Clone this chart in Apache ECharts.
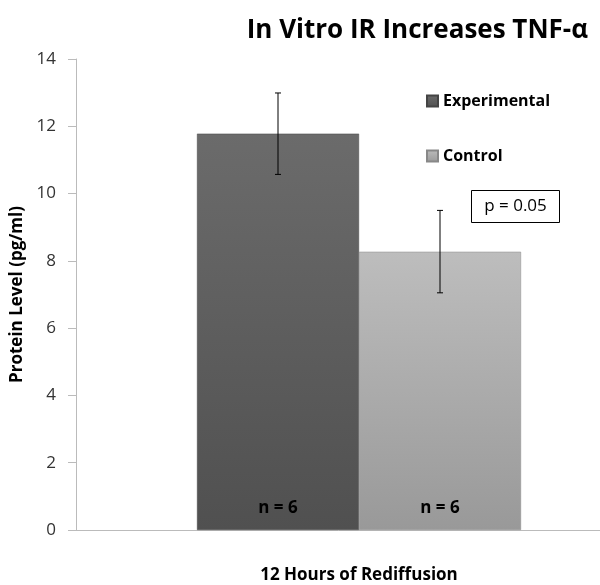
<!DOCTYPE html>
<html><head><meta charset="utf-8">
<script src="https://cdn.jsdelivr.net/npm/echarts@6/dist/echarts.min.js"></script>
<style>html,body{margin:0;padding:0;background:#fff}#c{width:600px;height:585px}</style>
</head><body><div id="c"></div>
<script>
const categories = ['12 Hours of Rediffusion'];
const seriesNames = ['Experimental', 'Control'];
const experimental = [11.78];
const control = [8.27];
const expErr = [[10.57, 12.99]];
const ctlErr = [[7.05, 9.5]];
const nLabels = ['n = 6', 'n = 6'];
const yTicks = [0, 2, 4, 6, 8, 10, 12, 14];

const FONT = '"Open Sans", "Noto Sans", sans-serif';
const BAR_W = 162;
const chart = echarts.init(document.getElementById('c'));

function grad(top, bottom) {
  return new echarts.graphic.LinearGradient(0, 0, 0, 1, [
    {offset: 0, color: top}, {offset: 1, color: bottom}
  ]);
}
function errSeries(err, side) {
  return {
    type: 'custom',
    z: 10,
    data: err.map((e, i) => [i, e[0], e[1]]),
    renderItem: function (params, api) {
      const lo = api.coord([api.value(0), api.value(1)]);
      const hi = api.coord([api.value(0), api.value(2)]);
      const x = lo[0] + side * BAR_W / 2;
      const cap = 3;
      const st = {stroke: '#000', lineWidth: 1};
      return {type: 'group', children: [
        {type: 'line', shape: {x1: x, y1: lo[1], x2: x, y2: hi[1]}, style: st},
        {type: 'line', shape: {x1: x - cap, y1: lo[1], x2: x + cap, y2: lo[1]}, style: st},
        {type: 'line', shape: {x1: x - cap, y1: hi[1], x2: x + cap, y2: hi[1]}, style: st}
      ]};
    }
  };
}

chart.setOption({
  animation: false,
  backgroundColor: '#fff',
  title: {
    text: 'In Vitro IR Increases TNF-α',
    right: 7, top: 13,
    textStyle: {fontFamily: FONT, fontWeight: 'bold', fontSize: 26, color: '#000'}
  },
  legend: {
    orient: 'vertical', left: 421, top: 88, itemGap: 39,
    itemWidth: 11, itemHeight: 11, icon: 'rect',
    data: seriesNames,
    textStyle: {fontFamily: FONT, fontWeight: 'bold', fontSize: 16, color: '#000', padding: [0, 0, 0, 0]}
  },
  grid: {left: 76, top: 59, width: 566, height: 471, outerBoundsMode: 'none', containLabel: false},
  xAxis: {
    type: 'category', data: categories,
    axisLine: {lineStyle: {color: '#bbb'}},
    axisTick: {show: false},
    axisLabel: {show: false},
    name: categories[0], nameLocation: 'middle', nameGap: 37,
    nameTextStyle: {fontFamily: FONT, fontWeight: 'bold', fontSize: 17, color: '#000'}
  },
  yAxis: {
    type: 'value', min: yTicks[0], max: yTicks[yTicks.length - 1], interval: 2,
    axisLine: {show: true, lineStyle: {color: '#bbb'}},
    axisTick: {show: true, length: 8, lineStyle: {color: '#bbb'}},
    splitLine: {show: false},
    axisLabel: {fontFamily: FONT, fontSize: 17, color: '#333', margin: 20},
    name: 'Protein Level (pg/ml)', nameLocation: 'middle', nameGap: 50, nameRotate: 90,
    nameTextStyle: {fontFamily: FONT, fontWeight: 'bold', fontSize: 17, color: '#000'}
  },
  graphic: [{
    type: 'group', left: 471, top: 190,
    children: [
      {type: 'rect', shape: {x: 0, y: 0, width: 88, height: 32}, style: {fill: '#fff', stroke: '#000', lineWidth: 1}},
      {type: 'text', x: 44, y: 16, style: {text: 'p = 0.05', align: 'center', verticalAlign: 'middle', font: '17px ' + FONT, fill: '#000'}}
    ]
  }],
  series: [
    {
      name: seriesNames[0], type: 'bar', data: experimental, barWidth: BAR_W, barGap: '0%',
      itemStyle: {color: grad('#6b6b6b', '#505050'), borderColor: '#444', borderWidth: 0.5},
      label: {show: true, position: 'insideBottom', distance: 13, formatter: () => nLabels[0],
        fontFamily: FONT, fontWeight: 'bold', fontSize: 17, color: '#000'}
    },
    {
      name: seriesNames[1], type: 'bar', data: control, barWidth: BAR_W, barGap: '0%',
      itemStyle: {color: grad('#bdbdbd', '#999999'), borderColor: '#888', borderWidth: 0.5},
      label: {show: true, position: 'insideBottom', distance: 13, formatter: () => nLabels[1],
        fontFamily: FONT, fontWeight: 'bold', fontSize: 17, color: '#000'}
    },
    errSeries(expErr, -1),
    errSeries(ctlErr, 1)
  ]
});
</script></body></html>
